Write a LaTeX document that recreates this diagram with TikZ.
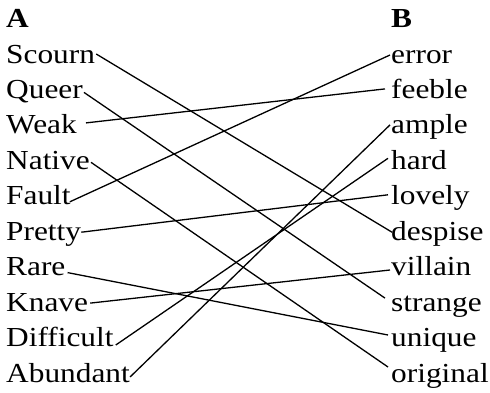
\documentclass[tikz,border=0pt]{standalone}
\usepackage{fontspec}
\setmainfont{Liberation Serif}[FakeStretch=1.14]
\begin{document}
\begin{tikzpicture}[x=1pt,y=-1pt,
  word/.style={anchor=base west,inner sep=0pt,font=\fontsize{27.5}{30}\selectfont},
  head/.style={word,font=\fontsize{27.5}{30}\selectfont\bfseries},
  link/.style={line width=1.3pt,black}]
\useasboundingbox (0,0) rectangle (490,392);
% headers
\node[head] (A) at (6,27) {A};
\node[head] (B) at (391,27) {B};
% left column
\node[word] (scourn)    at (6,63.0)  {Scourn};
\node[word] (queer)     at (6,98.4)  {Queer};
\node[word] (weak)      at (6,133.9) {Weak};
\node[word] (native)    at (6,169.3) {Native};
\node[word] (fault)     at (6,204.8) {Fault};
\node[word] (pretty)    at (6,240.2) {Pretty};
\node[word] (rare)      at (6,275.6) {Rare};
\node[word] (knave)     at (6,311.1) {Knave};
\node[word] (difficult) at (6,346.5) {Difficult};
\node[word] (abundant)  at (6,382.0) {Abundant};
% right column
\node[word] (error)    at (391,63.0)  {error};
\node[word] (feeble)   at (391,98.4)  {feeble};
\node[word] (ample)    at (391,133.9) {ample};
\node[word] (hard)     at (391,169.3) {hard};
\node[word] (lovely)   at (391,204.8) {lovely};
\node[word] (despise)  at (391,240.2) {despise};
\node[word] (villain)  at (391,275.6) {villain};
\node[word] (strange)  at (391,311.1) {strange};
\node[word] (unique)   at (391,346.5) {unique};
\node[word] (original) at (391,382.0) {original};
% connectors
\draw[link] ([shift={(1pt,9pt)}]scourn.base east) -- ([shift={(1pt,8pt)}]despise.base west);
\draw[link] ([shift={(1pt,6pt)}]queer.base east) -- ([shift={(-6pt,13pt)}]strange.base west);
\draw[link] ([shift={(9pt,11pt)}]weak.base east) -- ([shift={(-6pt,9.5pt)}]feeble.base west);
\draw[link] ([shift={(1pt,7pt)}]native.base east) -- ([shift={(-3pt,15pt)}]original.base west);
\draw[link] ([shift={(-1pt,3pt)}]fault.base east) -- ([shift={(-1pt,8pt)}]error.base west);
\draw[link] ([shift={(0pt,8pt)}]pretty.base east) -- ([shift={(-3pt,10pt)}]lovely.base west);
\draw[link] ([shift={(2pt,3pt)}]rare.base east) -- ([shift={(-3pt,11.5pt)}]unique.base west);
\draw[link] ([shift={(2pt,8pt)}]knave.base east) -- ([shift={(-1pt,5.6pt)}]villain.base west);
\draw[link] ([shift={(2pt,1.5pt)}]difficult.base east) -- ([shift={(-3pt,11pt)}]hard.base west);
\draw[link] ([shift={(0pt,5pt)}]abundant.base east) -- ([shift={(-1pt,9pt)}]ample.base west);
\end{tikzpicture}
\end{document}
